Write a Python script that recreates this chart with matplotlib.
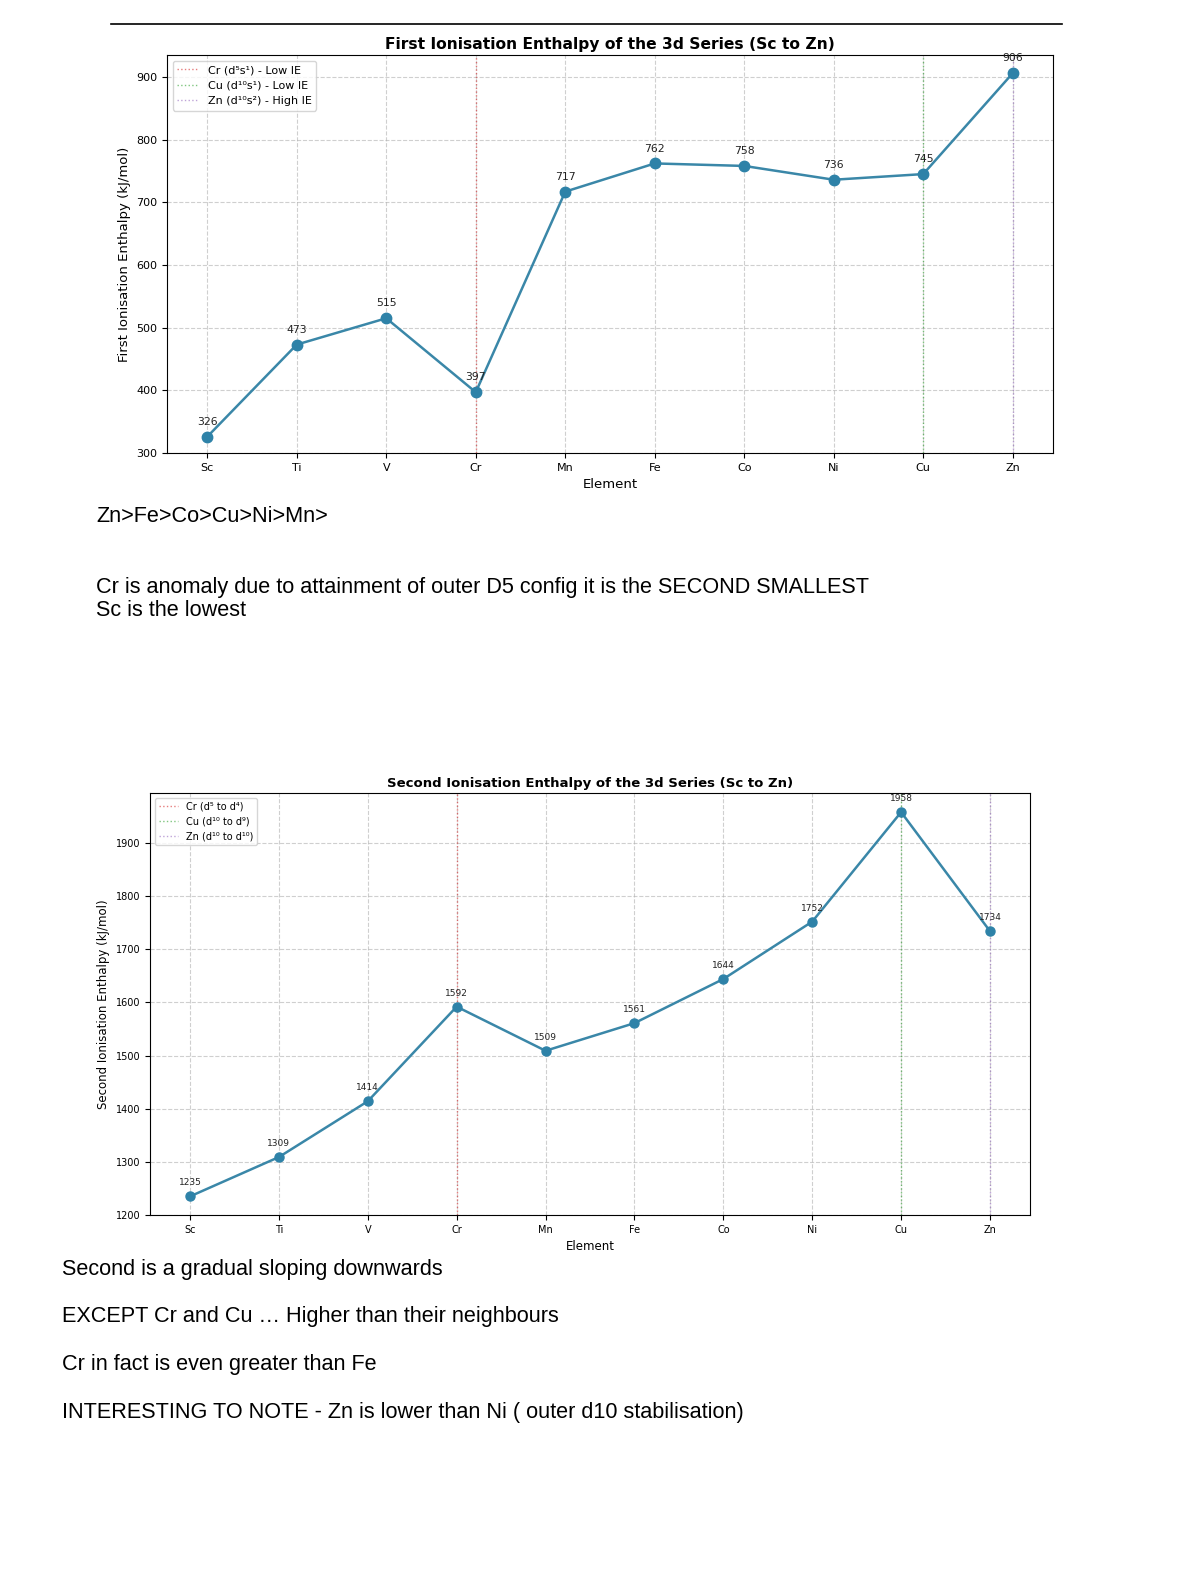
import matplotlib
matplotlib.use("Agg")
import matplotlib.pyplot as plt

elements = ["Sc", "Ti", "V", "Cr", "Mn", "Fe", "Co", "Ni", "Cu", "Zn"]
first_ie = [326, 473, 515, 397, 717, 762, 758, 736, 745, 906]
second_ie = [1235, 1309, 1414, 1592, 1509, 1561, 1644, 1752, 1958, 1734]

first_marks = [("Cr", "Cr (d⁵s¹) - Low IE"), ("Cu", "Cu (d¹⁰s¹) - Low IE"), ("Zn", "Zn (d¹⁰s²) - High IE")]
second_marks = [("Cr", "Cr (d⁵ to d⁴)"), ("Cu", "Cu (d¹⁰ to d⁹)"), ("Zn", "Zn (d¹⁰ to d¹⁰)")]
mark_colors = ["#d62728", "#2ca02c", "#9467bd"]

notes_top = ["Zn>Fe>Co>Cu>Ni>Mn>"]
notes_mid = ["Cr is anomaly due to attainment of outer D5 config it is the SECOND SMALLEST",
             "Sc is the lowest"]
notes_bottom = ["Second is a gradual sloping downwards",
                "EXCEPT Cr and Cu … Higher than their neighbours",
                "Cr in fact is even greater than Fe",
                "INTERESTING TO NOTE - Zn is lower than Ni ( outer d10 stabilisation)"]

W, H = 1179, 1575
fig = plt.figure(figsize=(W / 100, H / 100), dpi=100)


def px_axes(x0, y0, x1, y1):
    return fig.add_axes([x0 / W, 1 - y1 / H, (x1 - x0) / W, (y1 - y0) / H])


def draw_chart(ax, values, marks, title, ylabel, ylim, fs, title_fs, ann_fs, ann_off, ms):
    x = list(range(len(elements)))
    for (el, lab), col in zip(marks, mark_colors):
        ax.axvline(elements.index(el), color=col, linestyle=":", linewidth=1, alpha=0.6, label=lab)
    ax.plot(x, values, color="#3A87A8", linewidth=1.8, marker="o", markersize=ms,
            markerfacecolor="#2E82A8", markeredgecolor="#2E82A8")
    for xi, v in zip(x, values):
        ax.annotate(str(v), (xi, v), textcoords="offset points", xytext=(0, ann_off),
                    ha="center", fontsize=ann_fs, color="#222222")
    ax.set_xticks(x)
    ax.set_xticklabels(elements, fontsize=fs)
    ax.tick_params(axis="y", labelsize=fs)
    ax.set_xlim(-0.45, 9.45)
    ax.set_ylim(*ylim)
    ax.grid(True, linestyle="--", alpha=0.6)
    ax.set_title(title, fontsize=title_fs, fontweight="bold", pad=4)
    ax.set_xlabel("Element", fontsize=fs + 1.5)
    ax.set_ylabel(ylabel, fontsize=fs + 1.5)
    ax.legend(loc="upper left", fontsize=fs, framealpha=0.8)


ax1 = px_axes(167, 55, 1053, 453)
draw_chart(ax1, first_ie, first_marks, "First Ionisation Enthalpy of the 3d Series (Sc to Zn)",
           "First Ionisation Enthalpy (kJ/mol)", (300, 935), 8, 11.2, 7.8, 8.5, 7.5)

ax2 = px_axes(150, 793, 1030, 1215)
draw_chart(ax2, second_ie, second_marks, "Second Ionisation Enthalpy of the 3d Series (Sc to Zn)",
           "Second Ionisation Enthalpy (kJ/mol)", (1200, 1994), 7, 9.5, 6.5, 8, 6.5)

# page decoration and notes
fig.add_artist(plt.Line2D([111 / W, 1062 / W], [1 - 24 / H, 1 - 24 / H], color="black", linewidth=1.2))

page_font = "Liberation Sans"
for i, t in enumerate(notes_top):
    fig.text(96 / W, 1 - (517 + i * 23) / H, t, fontsize=15.6, family=page_font, va="center")
for i, t in enumerate(notes_mid):
    fig.text(96 / W, 1 - (588 + i * 23) / H, t, fontsize=15.6, family=page_font, va="center")
for i, t in enumerate(notes_bottom):
    fig.text(62 / W, 1 - (1269 + i * 47.7) / H, t, fontsize=15.6, family=page_font, va="center")

fig.savefig("out.png", dpi=100)
